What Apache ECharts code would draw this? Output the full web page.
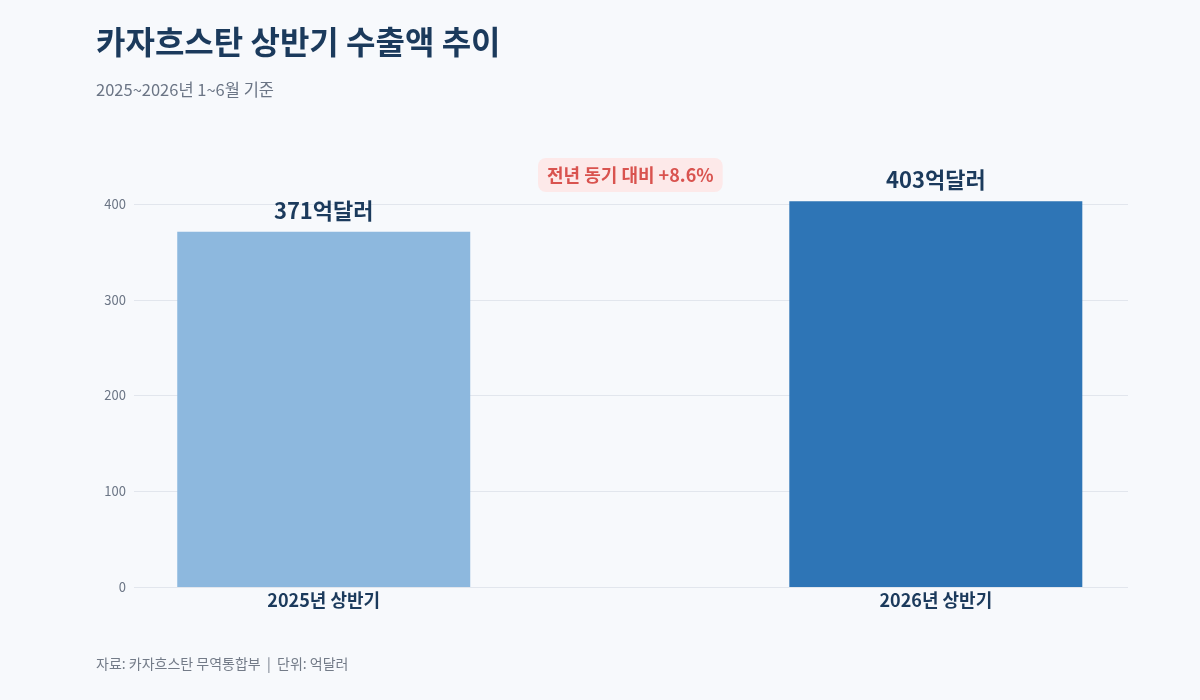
<!DOCTYPE html>
<html>
<head>
    <meta charset="utf-8"/>
    <title>카자흐스탄 상반기 수출액 추이</title>
    <script src="https://cdn.jsdelivr.net/npm/echarts@6/dist/echarts.min.js"></script>
    <style>
        html, body { margin: 0; padding: 0; background: #f7f9fc; }
    </style>
</head>
<body>

<div id="main" style="width: 1200px;height:700px;"></div>

<script>
    // 데이터
    var categories = ['2025년 상반기', '2026년 상반기'];
    var exportValues = [371, 403];
    var barColors = ['#8db8de', '#2e75b6'];
    var yTicks = [0, 100, 200, 300, 400];
    var growthText = '전년 동기 대비 +8.6%';

    var font = 'Noto Sans CJK KR';
    var myChart = echarts.init(document.getElementById('main'));

    var barData = exportValues.map(function (v, i) {
        return { value: [i, v], itemStyle: { color: barColors[i] } };
    });

    var option = {
        backgroundColor: '#f7f9fc',
        textStyle: { fontFamily: font },
        title: [{
            text: '카자흐스탄 상반기 수출액 추이',
            left: 91,
            top: 21,
            textStyle: { fontSize: 32, fontWeight: 'bold', color: '#1b3a5c', fontFamily: font }
        }, {
            text: '2025~2026년 1~6월 기준',
            left: 91,
            top: 76,
            textStyle: { fontSize: 16.5, fontWeight: 'normal', color: '#6b7585', fontFamily: font }
        }, {
            text: growthText,
            left: 538,
            top: 158,
            padding: [8, 9, 8, 9],
            backgroundColor: '#fde9e9',
            borderRadius: 8,
            textStyle: { fontSize: 18, fontWeight: 'bold', color: '#d9534f', fontFamily: font }
        }, {
            text: '자료: 카자흐스탄 무역통합부  |  단위: 억달러',
            left: 91,
            top: 652,
            textStyle: { fontSize: 14, fontWeight: 'normal', color: '#737b88', fontFamily: font }
        }],
        grid: { left: 134, right: 72, top: 204, bottom: 113 },
        xAxis: {
            type: 'value',
            min: -0.31,
            max: 1.314,
            axisLine: { show: false },
            axisTick: { show: false },
            splitLine: { show: false },
            axisLabel: {
                customValues: [0, 1],
                formatter: function (v) { return categories[Math.round(v)]; },
                fontSize: 18,
                fontWeight: 'bold',
                color: '#1b3a5c',
                margin: 4
            }
        },
        yAxis: {
            type: 'value',
            min: 0,
            max: yTicks[yTicks.length - 1],
            interval: 100,
            axisLine: { show: false },
            axisTick: { show: false },
            axisLabel: { color: '#6b7585', fontSize: 13, margin: 8 },
            splitLine: { lineStyle: { color: '#e2e6ed' } }
        },
        series: [{
            type: 'bar',
            data: barData,
            barWidth: 293,
            clip: false,
            label: {
                show: true,
                position: 'top',
                distance: 10,
                formatter: function (p) { return p.value[1] + '억달러'; },
                fontSize: 22,
                fontWeight: 'bold',
                color: '#1b3a5c'
            }
        }]
    };

    myChart.setOption(option);
</script>
</body>
</html>
